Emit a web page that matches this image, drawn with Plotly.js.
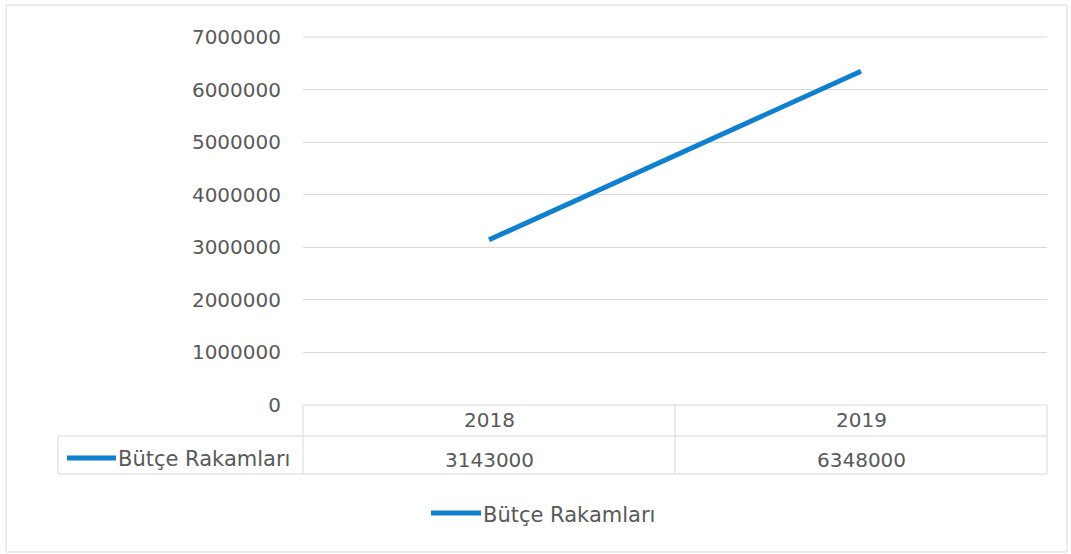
<!DOCTYPE html>
<html>
<head>
<meta charset="utf-8">
<script src="https://cdn.plot.ly/plotly-3.0.1.min.js"></script>
<style>html,body{margin:0;padding:0;background:#fff;}#chart{width:1071px;height:554px;}</style>
</head>
<body>
<div id="chart"></div>
<script>
var categories = ["2018", "2019"];
var seriesName = "Bütçe Rakamları";
var budgetValues = [3143000, 6348000];
var yTickValues = [0, 1000000, 2000000, 3000000, 4000000, 5000000, 6000000, 7000000];

var W = 1071, H = 554;
var L = 303, R = 24, T = 37, B = 149;
var PW = W - L - R, PH = H - T - B;
function px(x) { return (x - L) / PW; }
function py(y) { return (H - B - y) / PH; }

var FONT = "DejaVu Sans, sans-serif";
var TXT = "#595959";
var GRID = "#d9d9d9";
var BLUE = "#0f7fd0";
var NUMSIZE = 20, LABSIZE = 21;

var shapes = [];
function hline(x0, x1, y) { shapes.push({type:"line", xref:"paper", yref:"paper", x0:px(x0), x1:px(x1), y0:py(y), y1:py(y), line:{color:GRID, width:1}}); }
function vline(x, y0, y1) { shapes.push({type:"line", xref:"paper", yref:"paper", x0:px(x), x1:px(x), y0:py(y0), y1:py(y1), line:{color:GRID, width:1}}); }

// outer chart border
shapes.push({type:"rect", xref:"paper", yref:"paper", x0:px(6), x1:px(1067), y0:py(552), y1:py(5), line:{color:GRID, width:1}, fillcolor:"rgba(0,0,0,0)"});
// top gridline
hline(303, 1047, 37);
// data table grid
hline(303, 1047, 405);
hline(58, 1047, 436);
hline(58, 1047, 474);
vline(58, 436, 474);
vline(303, 405, 474);
vline(675, 405, 474);
vline(1047, 405, 474);
// legend key in table
shapes.push({type:"line", xref:"paper", yref:"paper", x0:px(67), x1:px(116), y0:py(458), y1:py(458), line:{color:BLUE, width:5}});
// bottom legend key
shapes.push({type:"line", xref:"paper", yref:"paper", x0:px(431), x1:px(481), y0:py(513), y1:py(513), line:{color:BLUE, width:5}});

var annotations = [];
categories.forEach(function (c, i) {
  annotations.push({x:i, xref:"x", y:py(420), yref:"paper", text:c, showarrow:false, font:{family:FONT, size:NUMSIZE, color:TXT}, xanchor:"center", yanchor:"middle"});
  annotations.push({x:i, xref:"x", y:py(460), yref:"paper", text:String(budgetValues[i]), showarrow:false, font:{family:FONT, size:NUMSIZE, color:TXT}, xanchor:"center", yanchor:"middle"});
});
annotations.push({x:px(116), xref:"paper", y:py(459), yref:"paper", text:seriesName, showarrow:false, font:{family:FONT, size:LABSIZE, color:TXT}, xanchor:"left", yanchor:"middle"});
annotations.push({x:px(481), xref:"paper", y:py(515), yref:"paper", text:seriesName, showarrow:false, font:{family:FONT, size:LABSIZE, color:TXT}, xanchor:"left", yanchor:"middle"});

var trace = {
  x: categories,
  y: budgetValues,
  type: "scatter",
  mode: "lines",
  name: seriesName,
  line: {color: BLUE, width: 5}
};

var layout = {
  width: W, height: H,
  margin: {l:L, r:R, t:T, b:B, pad:0},
  paper_bgcolor: "#fff", plot_bgcolor: "#fff",
  font: {family: FONT, size: NUMSIZE, color: TXT},
  xaxis: {type:"category", range:[-0.5, 1.5], showgrid:false, zeroline:false, showline:false, showticklabels:false, ticks:""},
  yaxis: {range:[0, 7000000], tickvals:yTickValues, ticktext:yTickValues.map(String), showgrid:true, gridcolor:GRID, gridwidth:1, zeroline:false, showline:false, ticks:"", ticklabelstandoff:21, tickfont:{family:FONT, size:NUMSIZE, color:TXT}},
  showlegend: false,
  shapes: shapes,
  annotations: annotations
};

Plotly.newPlot("chart", [trace], layout, {displayModeBar:false, staticPlot:true});
</script>
</body>
</html>
